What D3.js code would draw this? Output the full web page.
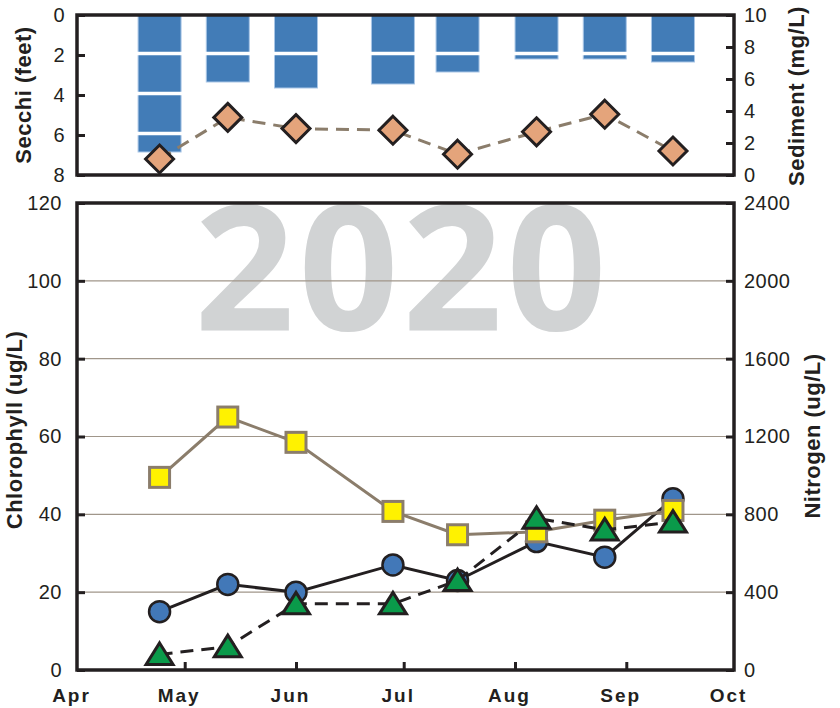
<!DOCTYPE html>
<html>
<head>
<meta charset="utf-8">
<script src="https://cdn.jsdelivr.net/npm/d3@7"></script>
<style>
  html, body { margin: 0; padding: 0; background: #fff; }
  svg { display: block; }
</style>
</head>
<body>
<svg id="chart"></svg>
<script>
// Sampling dates (2020)
const sampleDates = ['2020-04-24', '2020-05-13', '2020-06-01', '2020-06-28',
                     '2020-07-16', '2020-08-07', '2020-08-26', '2020-09-14'];
// Top panel
const secchi = [6.85, 3.35, 3.65, 3.45, 2.85, 2.2, 2.2, 2.35];
const sediment = [1.0, 3.6, 2.9, 2.8, 1.3, 2.7, 3.8, 1.5];
// Bottom panel
const phosphorus = [15, 22, 20, 27, 23, 33, 29, 44];
const chlorophyll = [4, 6, 17, 17, 23, 39, 36, 38];
const nitrogen = [990, 1300, 1170, 815, 695, 710, 770, 820];
// Axis ticks
const secchiTicks = [0, 2, 4, 6, 8];
const sedimentTicks = [0, 2, 4, 6, 8, 10];
const chlTicks = [0, 20, 40, 60, 80, 100, 120];
const nitroTicks = [0, 400, 800, 1200, 1600, 2000, 2400];
const yearLabel = '2020';

document.addEventListener('DOMContentLoaded', () => {
  const width = 840;
  const height = 708;
  const ink = '#231f20';
  const taupe = '#8b7d6b';

  const svg = d3.select('#chart').attr('width', width).attr('height', height);

  const parse = d3.timeParse('%Y-%m-%d');
  const dates = sampleDates.map(parse);

  // Shared x scale (Apr 1 -> Oct 1)
  const x = d3.scaleTime()
              .domain([parse('2020-04-01'), parse('2020-10-01')])
              .range([77, 734]);

  // Panel bounds
  const top = { y0: 15, y1: 175 };
  const bot = { y0: 203, y1: 670 };

  const ySecchi = d3.scaleLinear().domain([0, 8]).range([top.y0, top.y1]);
  const ySed = d3.scaleLinear().domain([0, 10]).range([top.y1, top.y0]);
  const yChl = d3.scaleLinear().domain([0, 120]).range([bot.y1, bot.y0]);
  const yN = d3.scaleLinear().domain([0, 2400]).range([bot.y1, bot.y0]);

  const styleAxis = (g, size) => {
    g.select('.domain').remove();
    g.selectAll('.tick line').attr('stroke', ink).attr('stroke-width', 3);
    g.selectAll('.tick text')
     .attr('fill', ink)
     .style('font-family', '"Liberation Sans", Arial, sans-serif')
     .style('font-size', `${size}px`)
     .style('letter-spacing', '0.5px');
  };

  // ---------- TOP PANEL ----------
  const barW = 43;
  svg.append('g')
     .selectAll('rect')
     .data(secchi)
     .join('rect')
     .attr('x', (d, i) => x(dates[i]) - barW / 2)
     .attr('y', ySecchi(0))
     .attr('width', barW)
     .attr('height', d => ySecchi(d) - ySecchi(0))
     .attr('fill', '#427cb7')
     .attr('stroke', '#a9c6e6')
     .attr('stroke-width', 1);

  // white gridlines over the bars
  svg.append('g')
     .selectAll('line')
     .data([2, 4, 6])
     .join('line')
     .attr('x1', x.range()[0])
     .attr('x2', x.range()[1])
     .attr('y1', d => ySecchi(d) - 1.5)
     .attr('y2', d => ySecchi(d) - 1.5)
     .attr('stroke', '#fff')
     .attr('stroke-width', 3.5);

  // sediment dashed line + diamonds
  const sedLine = d3.line()
                    .x((d, i) => x(dates[i]))
                    .y(d => ySed(d));
  svg.append('path')
     .datum(sediment)
     .attr('d', sedLine)
     .attr('fill', 'none')
     .attr('stroke', taupe)
     .attr('stroke-width', 3)
     .attr('stroke-dasharray', '13,8');

  const diamond = 'M0,-14L14,0L0,14L-14,0Z';
  svg.append('g')
     .selectAll('path')
     .data(sediment)
     .join('path')
     .attr('d', diamond)
     .attr('transform', (d, i) => `translate(${x(dates[i])},${ySed(d)})`)
     .attr('fill', '#e4a47b')
     .attr('stroke', ink)
     .attr('stroke-width', 3);

  svg.append('rect')
     .attr('x', x.range()[0])
     .attr('y', top.y0)
     .attr('width', x.range()[1] - x.range()[0])
     .attr('height', top.y1 - top.y0)
     .attr('fill', 'none')
     .attr('stroke', ink)
     .attr('stroke-width', 3.5);

  svg.append('g')
     .attr('transform', `translate(${x.range()[0]},0)`)
     .call(d3.axisLeft(ySecchi).tickValues(secchiTicks).tickSize(-8).tickPadding(12))
     .call(g => styleAxis(g, 20));

  svg.append('g')
     .attr('transform', `translate(${x.range()[1]},0)`)
     .call(d3.axisRight(ySed).tickValues(sedimentTicks).tickSize(-8).tickPadding(10))
     .call(g => styleAxis(g, 20));

  // ---------- BOTTOM PANEL ----------
  svg.append('text')
     .text(yearLabel)
     .attr('x', (x.range()[0] + x.range()[1]) / 2 - 3)
     .attr('y', 330)
     .attr('text-anchor', 'middle')
     .attr('fill', '#d1d3d4')
     .style('font-family', '"Open Sans", sans-serif')
     .style('font-weight', 700)
     .style('font-size', '175px')
     .style('letter-spacing', '4px');

  svg.append('g')
     .selectAll('line')
     .data(chlTicks.slice(1, -1))
     .join('line')
     .attr('x1', x.range()[0])
     .attr('x2', x.range()[1])
     .attr('y1', d => yChl(d))
     .attr('y2', d => yChl(d))
     .attr('stroke', '#a0968a')
     .attr('stroke-width', 1.2);

  // phosphorus: black solid line, blue circles
  const lineL = d3.line().x((d, i) => x(dates[i])).y(d => yChl(d));
  svg.append('path')
     .datum(phosphorus)
     .attr('d', lineL)
     .attr('fill', 'none')
     .attr('stroke', ink)
     .attr('stroke-width', 3);
  svg.append('g')
     .selectAll('circle')
     .data(phosphorus)
     .join('circle')
     .attr('cx', (d, i) => x(dates[i]))
     .attr('cy', d => yChl(d))
     .attr('r', 10.5)
     .attr('fill', '#4278b8')
     .attr('stroke', ink)
     .attr('stroke-width', 2.5);

  // nitrogen: taupe line, yellow squares
  const lineN = d3.line().x((d, i) => x(dates[i])).y(d => yN(d));
  svg.append('path')
     .datum(nitrogen)
     .attr('d', lineN)
     .attr('fill', 'none')
     .attr('stroke', taupe)
     .attr('stroke-width', 3);
  svg.append('g')
     .selectAll('rect')
     .data(nitrogen)
     .join('rect')
     .attr('x', (d, i) => x(dates[i]) - 10)
     .attr('y', d => yN(d) - 10)
     .attr('width', 20)
     .attr('height', 20)
     .attr('fill', '#fff200')
     .attr('stroke', taupe)
     .attr('stroke-width', 3);

  // chlorophyll: black dashed line, green triangles
  svg.append('path')
     .datum(chlorophyll)
     .attr('d', lineL)
     .attr('fill', 'none')
     .attr('stroke', ink)
     .attr('stroke-width', 3)
     .attr('stroke-dasharray', '13,8');
  const tri = 'M0,-11.5L13.5,10L-13.5,10Z';
  svg.append('g')
     .selectAll('path')
     .data(chlorophyll)
     .join('path')
     .attr('d', tri)
     .attr('transform', (d, i) => `translate(${x(dates[i])},${yChl(d)})`)
     .attr('fill', '#0a9a4a')
     .attr('stroke', ink)
     .attr('stroke-width', 3)
     .attr('stroke-linejoin', 'miter');

  svg.append('rect')
     .attr('x', x.range()[0])
     .attr('y', bot.y0)
     .attr('width', x.range()[1] - x.range()[0])
     .attr('height', bot.y1 - bot.y0)
     .attr('fill', 'none')
     .attr('stroke', ink)
     .attr('stroke-width', 3.5);

  svg.append('g')
     .attr('transform', `translate(${x.range()[0]},0)`)
     .call(d3.axisLeft(yChl).tickValues(chlTicks).tickSize(-8).tickPadding(15))
     .call(g => styleAxis(g, 20));

  svg.append('g')
     .attr('transform', `translate(${x.range()[1]},0)`)
     .call(d3.axisRight(yN).tickValues(nitroTicks).tickFormat(d3.format('d'))
             .tickSize(-8).tickPadding(10))
     .call(g => styleAxis(g, 20));

  // month axis
  svg.append('g')
     .attr('transform', `translate(0,${bot.y1})`)
     .call(d3.axisBottom(x).ticks(d3.timeMonth.every(1))
             .tickFormat(d3.timeFormat('%b')).tickSize(-8))
     .call(g => styleAxis(g, 19))
     .call(g => g.selectAll('.tick text')
                 .attr('y', 32)
                 .attr('dy', 0)
                 .attr('dx', -6)
                 .style('font-weight', 700)
                 .style('letter-spacing', '2px'))
     .call(g => g.selectAll('.tick line')
                 .filter(d => +d === +x.domain()[0] || +d === +x.domain()[1])
                 .remove());

  // axis titles
  const title = (txt, cx, cy) => {
    svg.append('text')
       .text(txt)
       .attr('transform', `translate(${cx},${cy}) rotate(-90)`)
       .attr('text-anchor', 'middle')
       .attr('dy', '0.35em')
       .attr('fill', ink)
       .style('font-family', '"Liberation Sans", Arial, sans-serif')
       .style('font-weight', 700)
       .style('font-size', '22px')
       .style('letter-spacing', '0.5px');
  };
  title('Secchi (feet)', 23, 95);
  title('Sediment (mg/L)', 796, 96);
  title('Chlorophyll (ug/L)', 14, 430);
  title('Nitrogen (ug/L)', 812, 436);
});
</script>
</body>
</html>
